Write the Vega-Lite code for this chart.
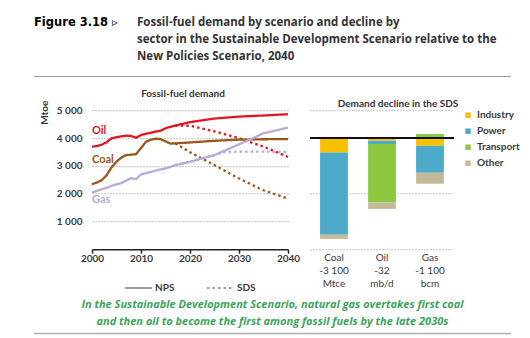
{
  "$schema": "https://vega.github.io/schema/vega-lite/v6.json",
  "padding": {"left": 33, "top": 16, "right": 0, "bottom": 0},
  "background": "white",
  "config": {
    "view": {"stroke": null},
    "font": "Lato",
    "axis": {"labelFont": "Lato", "labelFontWeight": "bold", "labelColor": "#3a3a3a", "labelFontSize": 10},
    "axisY": {"labelOverlap": false},
    "legend": {"labelFont": "Lato", "labelFontWeight": "bold", "labelColor": "#3a3a3a", "labelFontSize": 10}
  },
  "datasets": {
    "lines": [
      {"fuel": "Oil", "scenario": "NPS", "year": 2000, "value": 3687},
      {"fuel": "Oil", "scenario": "NPS", "year": 2001, "value": 3710},
      {"fuel": "Oil", "scenario": "NPS", "year": 2002, "value": 3760},
      {"fuel": "Oil", "scenario": "NPS", "year": 2003, "value": 3850},
      {"fuel": "Oil", "scenario": "NPS", "year": 2004, "value": 3990},
      {"fuel": "Oil", "scenario": "NPS", "year": 2005, "value": 4030},
      {"fuel": "Oil", "scenario": "NPS", "year": 2006, "value": 4060},
      {"fuel": "Oil", "scenario": "NPS", "year": 2007, "value": 4085},
      {"fuel": "Oil", "scenario": "NPS", "year": 2008, "value": 4070},
      {"fuel": "Oil", "scenario": "NPS", "year": 2009, "value": 4010},
      {"fuel": "Oil", "scenario": "NPS", "year": 2010, "value": 4110},
      {"fuel": "Oil", "scenario": "NPS", "year": 2011, "value": 4150},
      {"fuel": "Oil", "scenario": "NPS", "year": 2012, "value": 4190},
      {"fuel": "Oil", "scenario": "NPS", "year": 2013, "value": 4230},
      {"fuel": "Oil", "scenario": "NPS", "year": 2014, "value": 4260},
      {"fuel": "Oil", "scenario": "NPS", "year": 2015, "value": 4350},
      {"fuel": "Oil", "scenario": "NPS", "year": 2016, "value": 4400},
      {"fuel": "Oil", "scenario": "NPS", "year": 2017, "value": 4446},
      {"fuel": "Oil", "scenario": "NPS", "year": 2018, "value": 4490},
      {"fuel": "Oil", "scenario": "NPS", "year": 2019, "value": 4530},
      {"fuel": "Oil", "scenario": "NPS", "year": 2020, "value": 4570},
      {"fuel": "Oil", "scenario": "NPS", "year": 2025, "value": 4700},
      {"fuel": "Oil", "scenario": "NPS", "year": 2030, "value": 4770},
      {"fuel": "Oil", "scenario": "NPS", "year": 2035, "value": 4810},
      {"fuel": "Oil", "scenario": "NPS", "year": 2040, "value": 4855},
      {"fuel": "Oil", "scenario": "SDS", "year": 2017, "value": 4446},
      {"fuel": "Oil", "scenario": "SDS", "year": 2020, "value": 4440},
      {"fuel": "Oil", "scenario": "SDS", "year": 2025, "value": 4240},
      {"fuel": "Oil", "scenario": "SDS", "year": 2030, "value": 3990},
      {"fuel": "Oil", "scenario": "SDS", "year": 2035, "value": 3690},
      {"fuel": "Oil", "scenario": "SDS", "year": 2040, "value": 3320},
      {"fuel": "Coal", "scenario": "NPS", "year": 2000, "value": 2337},
      {"fuel": "Coal", "scenario": "NPS", "year": 2001, "value": 2400},
      {"fuel": "Coal", "scenario": "NPS", "year": 2002, "value": 2480},
      {"fuel": "Coal", "scenario": "NPS", "year": 2003, "value": 2663},
      {"fuel": "Coal", "scenario": "NPS", "year": 2004, "value": 2950},
      {"fuel": "Coal", "scenario": "NPS", "year": 2005, "value": 3150},
      {"fuel": "Coal", "scenario": "NPS", "year": 2006, "value": 3300},
      {"fuel": "Coal", "scenario": "NPS", "year": 2007, "value": 3386},
      {"fuel": "Coal", "scenario": "NPS", "year": 2008, "value": 3400},
      {"fuel": "Coal", "scenario": "NPS", "year": 2009, "value": 3420},
      {"fuel": "Coal", "scenario": "NPS", "year": 2010, "value": 3640},
      {"fuel": "Coal", "scenario": "NPS", "year": 2011, "value": 3860},
      {"fuel": "Coal", "scenario": "NPS", "year": 2012, "value": 3940},
      {"fuel": "Coal", "scenario": "NPS", "year": 2013, "value": 3975},
      {"fuel": "Coal", "scenario": "NPS", "year": 2014, "value": 3960},
      {"fuel": "Coal", "scenario": "NPS", "year": 2015, "value": 3880},
      {"fuel": "Coal", "scenario": "NPS", "year": 2016, "value": 3800},
      {"fuel": "Coal", "scenario": "NPS", "year": 2017, "value": 3807},
      {"fuel": "Coal", "scenario": "NPS", "year": 2020, "value": 3840},
      {"fuel": "Coal", "scenario": "NPS", "year": 2025, "value": 3900},
      {"fuel": "Coal", "scenario": "NPS", "year": 2030, "value": 3940},
      {"fuel": "Coal", "scenario": "NPS", "year": 2035, "value": 3955},
      {"fuel": "Coal", "scenario": "NPS", "year": 2040, "value": 3960},
      {"fuel": "Coal", "scenario": "SDS", "year": 2017, "value": 3807},
      {"fuel": "Coal", "scenario": "SDS", "year": 2018, "value": 3700},
      {"fuel": "Coal", "scenario": "SDS", "year": 2020, "value": 3490},
      {"fuel": "Coal", "scenario": "SDS", "year": 2025, "value": 3024},
      {"fuel": "Coal", "scenario": "SDS", "year": 2030, "value": 2542},
      {"fuel": "Coal", "scenario": "SDS", "year": 2035, "value": 2120},
      {"fuel": "Coal", "scenario": "SDS", "year": 2040, "value": 1819},
      {"fuel": "Gas", "scenario": "NPS", "year": 2000, "value": 2036},
      {"fuel": "Gas", "scenario": "NPS", "year": 2001, "value": 2100},
      {"fuel": "Gas", "scenario": "NPS", "year": 2002, "value": 2160},
      {"fuel": "Gas", "scenario": "NPS", "year": 2003, "value": 2210},
      {"fuel": "Gas", "scenario": "NPS", "year": 2004, "value": 2280},
      {"fuel": "Gas", "scenario": "NPS", "year": 2005, "value": 2330},
      {"fuel": "Gas", "scenario": "NPS", "year": 2006, "value": 2380},
      {"fuel": "Gas", "scenario": "NPS", "year": 2007, "value": 2470},
      {"fuel": "Gas", "scenario": "NPS", "year": 2008, "value": 2560},
      {"fuel": "Gas", "scenario": "NPS", "year": 2009, "value": 2518},
      {"fuel": "Gas", "scenario": "NPS", "year": 2010, "value": 2687},
      {"fuel": "Gas", "scenario": "NPS", "year": 2011, "value": 2740},
      {"fuel": "Gas", "scenario": "NPS", "year": 2012, "value": 2783},
      {"fuel": "Gas", "scenario": "NPS", "year": 2013, "value": 2830},
      {"fuel": "Gas", "scenario": "NPS", "year": 2014, "value": 2870},
      {"fuel": "Gas", "scenario": "NPS", "year": 2015, "value": 2904},
      {"fuel": "Gas", "scenario": "NPS", "year": 2016, "value": 2960},
      {"fuel": "Gas", "scenario": "NPS", "year": 2017, "value": 3024},
      {"fuel": "Gas", "scenario": "NPS", "year": 2020, "value": 3145},
      {"fuel": "Gas", "scenario": "NPS", "year": 2025, "value": 3386},
      {"fuel": "Gas", "scenario": "NPS", "year": 2030, "value": 3771},
      {"fuel": "Gas", "scenario": "NPS", "year": 2035, "value": 4169},
      {"fuel": "Gas", "scenario": "NPS", "year": 2040, "value": 4373},
      {"fuel": "Gas", "scenario": "SDS", "year": 2017, "value": 3024},
      {"fuel": "Gas", "scenario": "SDS", "year": 2020, "value": 3145},
      {"fuel": "Gas", "scenario": "SDS", "year": 2025, "value": 3386},
      {"fuel": "Gas", "scenario": "SDS", "year": 2027, "value": 3490},
      {"fuel": "Gas", "scenario": "SDS", "year": 2030, "value": 3510},
      {"fuel": "Gas", "scenario": "SDS", "year": 2035, "value": 3510},
      {"fuel": "Gas", "scenario": "SDS", "year": 2040, "value": 3500}
    ],
    "bars": [
      {"fuel": "Coal|-3 100|Mtce", "sector": "Industry", "ord": 1, "value": -525},
      {"fuel": "Coal|-3 100|Mtce", "sector": "Power", "ord": 2, "value": -2955},
      {"fuel": "Coal|-3 100|Mtce", "sector": "Other", "ord": 4, "value": -150},
      {"fuel": "Oil|-32|mb/d", "sector": "Industry", "ord": 1, "value": -100},
      {"fuel": "Oil|-32|mb/d", "sector": "Power", "ord": 2, "value": -120},
      {"fuel": "Oil|-32|mb/d", "sector": "Transport", "ord": 3, "value": -2090},
      {"fuel": "Oil|-32|mb/d", "sector": "Other", "ord": 4, "value": -240},
      {"fuel": "Gas|-1 100|bcm", "sector": "Industry", "ord": 1, "value": -280},
      {"fuel": "Gas|-1 100|bcm", "sector": "Power", "ord": 2, "value": -970},
      {"fuel": "Gas|-1 100|bcm", "sector": "Transport", "ord": 3, "value": 145},
      {"fuel": "Gas|-1 100|bcm", "sector": "Other", "ord": 4, "value": -395}
    ],
    "one": [{"k": 1}]
  },
  "bounds": "flush",
  "spacing": 34.2,
  "resolve": {"scale": {"x": "independent", "y": "independent", "color": "independent", "strokeDash": "independent"}, "legend": {"color": "independent", "strokeDash": "independent"}},
  "vconcat": [
    {
      "bounds": "flush",
      "spacing": 0,
      "hconcat": [
        {
          "width": 103, "height": 1,
          "data": {"name": "one"},
          "mark": {"type": "point", "opacity": 0, "size": 0},
          "encoding": {},
          "view": {"fill": "#9a9a9a", "stroke": null},
          "title": {"text": ["Figure 3.18 ▹", " ", " "], "anchor": "start", "font": "DejaVu Sans", "fontSize": 11.5, "fontWeight": "bold", "color": "#000000", "lineHeight": 17, "offset": 14}
        },
        {
          "width": 374, "height": 1,
          "data": {"name": "one"},
          "mark": {"type": "point", "opacity": 0, "size": 0},
          "encoding": {},
          "view": {"fill": "#9a9a9a", "stroke": null},
          "title": {"text": ["Fossil-fuel demand by scenario and decline by", "sector in the Sustainable Development Scenario relative to the", "New Policies Scenario, 2040"], "anchor": "start", "font": "Open Sans", "fontSize": 11.5, "fontWeight": "bold", "color": "#333333", "lineHeight": 17, "offset": 14}
        }
      ]
    },
    {
      "bounds": "flush",
      "spacing": 22,
      "resolve": {"scale": {"x": "independent", "y": "independent", "color": "independent", "strokeDash": "independent"}, "legend": {"color": "independent", "strokeDash": "independent"}},
      "hconcat": [
        {
          "width": 35.7, "height": 139,
          "data": {"name": "one"},
          "mark": {"type": "point", "opacity": 0, "size": 0},
          "encoding": {}
        },
        {
          "width": 196, "height": 139,
          "data": {"name": "lines"},
          "title": {"text": "Fossil-fuel demand", "font": "Lato", "fontSize": 10, "fontWeight": "bold", "color": "#333333", "dx": -7, "offset": -9, "baseline": "bottom"},
          "encoding": {
            "x": {"field": "year", "type": "quantitative", "scale": {"domain": [2000, 2040], "nice": false, "zero": false},
                  "axis": {"values": [2000, 2010, 2020, 2030, 2040], "format": "d", "title": null, "grid": false, "domainColor": "#222222", "domainWidth": 1.5, "tickColor": "#222222", "tickSize": 4, "tickWidth": 1.5, "labelPadding": 0, "labelFlush": false, "labelOverlap": false}},
            "y": {"field": "value", "type": "quantitative", "scale": {"domain": [0, 5000], "nice": false},
                  "axis": {"values": [1000, 2000, 3000, 4000, 5000], "labelExpr": "replace(format(datum.value, ','), ',', ' ')", "labelOverlap": false, "labelFlush": false, "domain": false, "ticks": false, "labelPadding": 10, "gridDash": [1, 2], "gridColor": "#8a8a8a", "gridWidth": 1,
                           "title": "Mtoe", "titleFont": "Lato", "titleFontSize": 10, "titleFontWeight": "bold", "titleColor": "#3a3a3a", "titleX": -48, "titleY": -10, "titleAngle": -90, "titleAlign": "right", "titleBaseline": "middle"}}
          },
          "layer": [
            {
              "mark": {"type": "line", "strokeWidth": 2.3},
              "encoding": {
                "color": {"field": "fuel", "type": "nominal", "scale": {"domain": ["Oil", "Coal", "Gas"], "range": ["#e2161f", "#9b5619", "#b9aad6"]}, "legend": null},
                "strokeDash": {"field": "scenario", "type": "nominal", "scale": {"domain": ["NPS", "SDS"], "range": [[1, 0], [2.5, 3]]},
                               "legend": {"title": null, "orient": "none", "direction": "horizontal", "legendX": 32, "legendY": 163, "symbolType": "stroke", "symbolSize": 729, "symbolStrokeColor": "#a0a0a0", "symbolStrokeWidth": 2, "labelOffset": 2, "columnPadding": 28}}
              }
            },
            {
              "transform": [{"filter": "datum.year == 2000 && datum.scenario == 'NPS' && datum.fuel == 'Oil'"}],
              "mark": {"type": "text", "align": "left", "baseline": "middle", "dy": -15.5, "font": "Lato", "fontSize": 11, "fontWeight": "bold", "color": "#e2161f"},
              "encoding": {"text": {"field": "fuel"}}
            },
            {
              "transform": [{"filter": "datum.year == 2000 && datum.scenario == 'NPS' && datum.fuel == 'Coal'"}],
              "mark": {"type": "text", "align": "left", "baseline": "middle", "dy": -24.5, "font": "Lato", "fontSize": 11, "fontWeight": "bold", "color": "#9b5619"},
              "encoding": {"text": {"field": "fuel"}}
            },
            {
              "transform": [{"filter": "datum.year == 2000 && datum.scenario == 'NPS' && datum.fuel == 'Gas'"}],
              "mark": {"type": "text", "align": "left", "baseline": "middle", "dy": 7.5, "font": "Lato", "fontSize": 11, "fontWeight": "bold", "color": "#b9aad6"},
              "encoding": {"text": {"field": "fuel"}}
            }
          ]
        },
        {
          "width": 144, "height": 139,
          "data": {"name": "bars"},
          "title": {"text": "Demand  decline in the SDS", "font": "Lato", "fontSize": 10, "fontWeight": "bold", "color": "#333333", "dx": 16, "offset": -9, "baseline": "bottom"},
          "layer": [
            {
              "mark": {"type": "bar"},
              "encoding": {
                "x": {"field": "fuel", "type": "nominal", "sort": ["Coal|-3 100|Mtce", "Oil|-32|mb/d", "Gas|-1 100|bcm"], "scale": {"paddingInner": 0.42, "paddingOuter": 0.21},
                      "axis": {"title": null, "labelAngle": 0, "domain": false, "ticks": false, "labelExpr": "split(datum.label, '|')", "labelLineHeight": 13, "labelBaseline": "top", "labelPadding": 3, "labelFontWeight": "normal"}},
                "y": {"field": "value", "type": "quantitative", "stack": "zero", "scale": {"domain": [-4000, 1000], "nice": false},
                      "axis": {"values": [-4000, -3000, -2000, -1000, 1000], "labels": false, "domain": false, "ticks": false, "title": null, "gridDash": [1, 2], "gridColor": "#8a8a8a", "gridWidth": 1}},
                "color": {"field": "sector", "type": "nominal", "scale": {"domain": ["Industry", "Power", "Transport", "Other"], "range": ["#f7c100", "#4eaacb", "#8dc840", "#c3bb98"]},
                          "legend": {"title": null, "orient": "right", "offset": 9, "symbolType": "square", "symbolSize": 30, "symbolStrokeWidth": 0, "labelOffset": 4, "rowPadding": 6, "padding": 0}},
                "order": {"field": "ord", "type": "quantitative"}
              }
            },
            {
              "mark": {"type": "rule", "color": "#111111", "strokeWidth": 1.5},
              "encoding": {"y": {"datum": 0}}
            }
          ]
        }
      ]
    },
    {
      "width": 477, "height": 189.1,
      "data": {"name": "one"},
      "mark": {"type": "rule", "color": "#b0b0b0", "strokeWidth": 1.5},
      "encoding": {"y": {"datum": 0, "type": "quantitative", "scale": {"domain": [0, 1]}, "axis": null}},
      "title": {"text": ["In the Sustainable Development Scenario, natural gas overtakes first coal", "and then oil to become the first among fossil fuels by the late 2030s"], "orient": "bottom", "anchor": "middle", "font": "Open Sans", "fontSize": 11, "fontWeight": "bold", "fontStyle": "italic", "color": "#3aa55a", "lineHeight": 17, "offset": -35}
    }
  ]
}
